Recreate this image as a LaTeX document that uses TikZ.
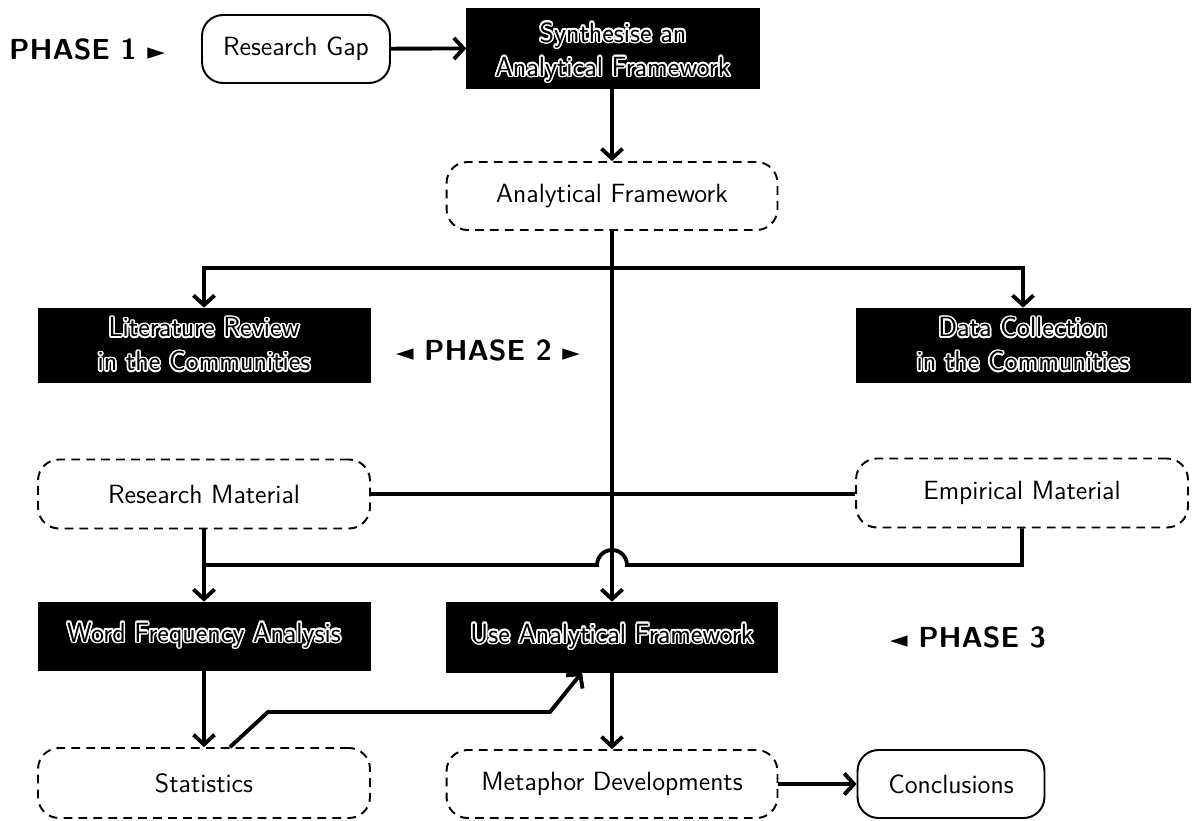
\documentclass[tikz,border=0pt]{standalone}
\usepackage{fontspec}
\usepackage{contour}
\contourlength{0.9pt}
\newfontfamily\symfont{DejaVu Sans}
\usetikzlibrary{arrows.meta,calc}
\newcommand{\outl}[1]{\contour{white}{#1}}
\newcommand{\outldown}[1]{\raisebox{-2.8pt}[\height][\depth]{\contour{white}{#1}}}
\newcommand{\tri}[1]{{\symfont\fontsize{13}{15}\selectfont #1}}
\begin{document}
\begin{tikzpicture}[x=0.02cm,y=-0.02cm,
  every node/.style={font=\sffamily\fontsize{15}{19}\selectfont, align=center, inner sep=2pt},
  termbox/.style={draw, line width=1.1pt, rounded corners=0.42cm},
  databox/.style={draw, dashed, dash pattern=on 5pt off 3.5pt, line width=1.1pt, rounded corners=0.42cm},
  actbox/.style={fill=black, draw=black, text=black, font=\sffamily\fontsize{15.8}{19.5}\selectfont},
  phase/.style={font=\sffamily\bfseries\fontsize{16.5}{19}\selectfont},
  conn/.style={line width=2.2pt},
  arr/.style={conn, -{Straight Barb[length=5.5pt,width=12pt,line width=2.2pt]}}]
\useasboundingbox (0,0) rectangle (1193,821);

% process steps, data stores and end points
\node[termbox, minimum width=3.76cm, minimum height=1.36cm] (gap) at (296,49) {Research Gap};
\node[actbox, minimum width=5.86cm, minimum height=1.6cm] (syn) at (613,48) {\outldown{Synthesise an}\\\outldown{Analytical Framework}};
\node[databox, minimum width=6.62cm, minimum height=1.36cm] (af) at (612,196) {Analytical Framework};
\node[actbox, minimum width=6.64cm, minimum height=1.48cm] (lit) at (204,345) {\outl{Literature Review}\\\outl{in the Communities}};
\node[actbox, minimum width=6.68cm, minimum height=1.48cm] (dc) at (1023,345) {\outl{Data Collection}\\\outl{in the Communities}};
\node[databox, minimum width=6.64cm, minimum height=1.38cm] (rm) at (204,494) {Research Material};
\node[databox, minimum width=6.64cm, minimum height=1.38cm] (em) at (1022,493) {Empirical Material};
\node[actbox, minimum width=6.64cm, minimum height=1.36cm] (wf) at (204,636) {\outl{Word Frequency Analysis}};
\node[actbox, minimum width=6.62cm, minimum height=1.4cm] (uaf) at (612,637) {\outl{Use Analytical Framework}};
\node[databox, minimum width=6.64cm, minimum height=1.4cm] (st) at (204,783) {Statistics};
\node[databox, minimum width=6.62cm, minimum height=1.36cm] (md) at (612,784) {Metaphor Developments};
\node[termbox, minimum width=3.74cm, minimum height=1.36cm] (con) at (951,784) {Conclusions};

% phase labels
\node[phase] (p1) at (87,49) {PHASE 1 \tri{►}};
\node[phase] (p2) at (488,350) {\tri{◄} PHASE 2 \tri{►}};
\node[phase] (p3) at (968,637) {\tri{◄} PHASE 3};

% connectors
\draw[arr] (gap) -- (syn);
\draw[arr] (syn.south -| af.north) -- (af.north);
\draw[arr] (af.south) -- (uaf.north);
\coordinate (split) at (612,268);
\draw[arr] (split) -| (lit.north);
\draw[arr] (split) -| (dc.north);
\draw[conn] (rm.east) -- (rm.east -| em.west);
\draw[arr] (rm.south) -- (wf.north);
\coordinate (hopR) at (627,565);
\draw[conn] (em.south) |- (hopR) arc[start angle=0, end angle=180, radius=0.3cm] -- (rm.south |- hopR);
\draw[arr] (wf.south) -- (st.north);
\coordinate (s1) at (268,712);
\coordinate (s2) at (550,712);
\draw[arr] ($(st.north)+(26,0)$) -- (s1) -- (s2) -- ($(uaf.south)+(-30,0)$);
\draw[arr] (uaf.south) -- (md.north);
\draw[arr] (md) -- (con);
\end{tikzpicture}
\end{document}
